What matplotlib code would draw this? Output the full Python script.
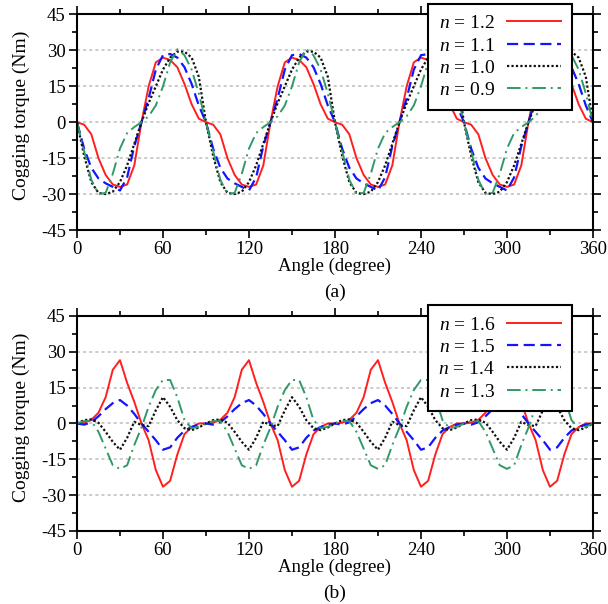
import numpy as np
import matplotlib
matplotlib.use('Agg')
import matplotlib.pyplot as plt
from matplotlib.ticker import MultipleLocator

plt.rcParams['font.family'] = ['Liberation Serif', 'DejaVu Serif']
plt.rcParams['mathtext.fontset'] = 'custom'
plt.rcParams['mathtext.it'] = 'Liberation Serif:italic'
plt.rcParams['mathtext.rm'] = 'Liberation Serif'
plt.rcParams['axes.unicode_minus'] = False

angle = list(range(0, 365, 5))

# ---- panel (a) ----
n12 = [0, -1, -5, -15, -22, -26, -27, -26, -18, 0, 15, 25, 27, 26, 23, 16, 7.5, 1.5,
       0, -1, -5, -15, -22, -26, -27, -26, -18, 0, 15, 25, 27, 26, 23, 16, 7.5, 1.5,
       0, -1, -5, -15, -22, -26, -27, -26, -18, 0, 15, 25, 27, 26, 23, 16, 7.5, 1.5,
       0, -1, -5, -15, -22, -26, -27, -26, -18, 0, 15, 25, 27, 26, 23, 16, 7.5, 1.5, 0]
n11 = [0, -11, -19, -23.5, -25.5, -27, -28.5, -23, -10, 0, 10, 22, 28, 28.5, 27, 23, 16, 7,
       0, -11, -19, -23.5, -25.5, -27, -28.5, -23, -10, 0, 10, 22, 28, 28.5, 27, 23, 16, 7,
       0, -11, -19, -23.5, -25.5, -27, -28.5, -23, -10, 0, 10, 22, 28, 28.5, 27, 23, 16, 7,
       0, -11, -19, -23.5, -25.5, -27, -28.5, -23, -10, 0, 10, 22, 28, 28.5, 27, 23, 16, 7, 0]
n10 = [0, -14, -25, -29.5, -30, -29, -25, -18, -9, 0, 8, 15, 22, 27, 29.5, 29.5, 27, 19,
       0, -14, -25, -29.5, -30, -29, -25, -18, -9, 0, 8, 15, 22, 27, 29.5, 29.5, 27, 19,
       0, -14, -25, -29.5, -30, -29, -25, -18, -9, 0, 8, 15, 22, 27, 29.5, 29.5, 27, 19,
       0, -14, -25, -29.5, -30, -29, -25, -18, -9, 0, 8, 15, 22, 27, 29.5, 29.5, 27, 19, 0]
n09 = [0, -12, -24, -30, -29.5, -21.5, -11, -4.5, -2, 0, 2.5, 7, 15, 25, 30.5, 28, 22, 12,
       0, -12, -24, -30, -29.5, -21.5, -11, -4.5, -2, 0, 2.5, 7, 15, 25, 30.5, 28, 22, 12,
       0, -12, -24, -30, -29.5, -21.5, -11, -4.5, -2, 0, 2.5, 7, 15, 25, 30.5, 28, 22, 12,
       0, -12, -24, -30, -29.5, -21.5, -11, -4.5, -2, 0, 2.5, 7, 15, 25, 30.5, 28, 22, 12, 0]

# ---- panel (b) ----
n16 = [0, 0.3, 1.5, 4.5, 11, 22.5, 26.5, 17, 9, 0, -7, -19.5, -26.5, -24, -13, -4.5, -1.5, 0,
       0, 0.3, 1.5, 4.5, 11, 22.5, 26.5, 17, 9, 0, -7, -19.5, -26.5, -24, -13, -4.5, -1.5, 0,
       0, 0.3, 1.5, 4.5, 11, 22.5, 26.5, 17, 9, 0, -7, -19.5, -26.5, -24, -13, -4.5, -1.5, 0,
       0, 0.3, 1.5, 4.5, 11, 22.5, 26.5, 17, 9, 0, -7, -19.5, -26.5, -24, -13, -4.5, -1.5, 0, 0]
n15 = [0, -0.5, 0.5, 3, 6, 8.5, 9.8, 7.5, 4, 0, -3.5, -7, -11, -10, -6, -3, -1.5, -0.5,
       0, -0.5, 0.5, 3, 6, 8.5, 9.8, 7.5, 4, 0, -3.5, -7, -11, -10, -6, -3, -1.5, -0.5,
       0, -0.5, 0.5, 3, 6, 8.5, 9.8, 7.5, 4, 0, -3.5, -7, -11, -10, -6, -3, -1.5, -0.5,
       0, -0.5, 0.5, 3, 6, 8.5, 9.8, 7.5, 4, 0, -3.5, -7, -11, -10, -6, -3, -1.5, -0.5, 0]
n14 = [0, 1.4, 1.7, 0.3, -3.5, -7.7, -11, -6, 0.7, -0.7, -1.1, 5.5, 11, 7, 1.4, -2, -2.8, -1.7,
       0, 1.4, 1.7, 0.3, -3.5, -7.7, -11, -6, 0.7, -0.7, -1.1, 5.5, 11, 7, 1.4, -2, -2.8, -1.7,
       0, 1.4, 1.7, 0.3, -3.5, -7.7, -11, -6, 0.7, -0.7, -1.1, 5.5, 11, 7, 1.4, -2, -2.8, -1.7,
       0, 1.4, 1.7, 0.3, -3.5, -7.7, -11, -6, 0.7, -0.7, -1.1, 5.5, 11, 7, 1.4, -2, -2.8, -1.7, 0]
n13 = [0, 1, 1, -3.5, -10.5, -17.5, -19, -17.5, -9, -1.7, 7, 14, 18.2, 18.2, 11, 1.4, -2, -1.4,
       0, 1, 1, -3.5, -10.5, -17.5, -19, -17.5, -9, -1.7, 7, 14, 18.2, 18.2, 11, 1.4, -2, -1.4,
       0, 1, 1, -3.5, -10.5, -17.5, -19, -17.5, -9, -1.7, 7, 14, 18.2, 18.2, 11, 1.4, -2, -1.4,
       0, 1, 1, -3.5, -10.5, -17.5, -19, -17.5, -9, -1.7, 7, 14, 18.2, 18.2, 11, 1.4, -2, -1.4, 0]

labels_a = ['$n$ = 1.2', '$n$ = 1.1', '$n$ = 1.0', '$n$ = 0.9']
labels_b = ['$n$ = 1.6', '$n$ = 1.5', '$n$ = 1.4', '$n$ = 1.3']
x_ticks = [0, 60, 120, 180, 240, 300, 360]
y_ticks = [-45, -30, -15, 0, 15, 30, 45]
grid_levels = [-30, -15, 0, 15, 30]

styles = [
    dict(color='#ff1f1f', lw=1.4, ls='-'),
    dict(color='#1414ff', lw=1.6, dashes=(5, 2.5)),
    dict(color='#111111', lw=1.6, dashes=(1, 1)),
    dict(color='#2f9a66', lw=1.4, dashes=(7, 2.5, 1, 2.5)),
]

fig = plt.figure(figsize=(6.08, 6.04), dpi=100)
ax_a = fig.add_axes([0.1266, 0.6192, 0.8487, 0.3568])
ax_b = fig.add_axes([0.1266, 0.1209, 0.8487, 0.3560])


def draw(ax, series, labels, tag):
    for lv in grid_levels:
        ax.axhline(lv, color='#bdbdbd', lw=1.1, ls=(0, (2, 2)), zorder=0)
    lines = []
    for s, lab, st in zip(series, labels, styles):
        ln, = ax.plot(angle, s, label=lab, **st)
        lines.append(ln)
    ax.set_xlim(0, 360)
    ax.set_ylim(-45, 45)
    ax.set_xticks(x_ticks)
    ax.set_yticks(y_ticks)
    ax.xaxis.set_minor_locator(MultipleLocator(30))
    ax.yaxis.set_minor_locator(MultipleLocator(7.5))
    ax.tick_params(which='both', direction='out', top=True, right=True,
                   labelsize=13.5, width=1.2, pad=2)
    ax.tick_params(which='major', length=6)
    ax.tick_params(which='minor', length=3.5)
    for sp in ax.spines.values():
        sp.set_linewidth(1.5)
    ax.set_ylabel('Cogging torque (Nm)', fontsize=14, va='center')
    ax.yaxis.set_label_coords(-0.108, 0.53)
    ax.set_xlabel('Angle (degree)', fontsize=13.5, labelpad=0)
    leg = ax.legend(handles=lines, loc='upper right', bbox_to_anchor=(0.959, 1.049),
                    borderaxespad=0, fontsize=14, markerfirst=False,
                    handlelength=2.8, handletextpad=0.6, labelspacing=0.24,
                    borderpad=0.55, fancybox=False, framealpha=1, edgecolor='black')
    leg.get_frame().set_linewidth(1.5)
    leg.set_zorder(10)
    ax.text(0.5, -0.29, tag, transform=ax.transAxes, ha='center', va='center', fontsize=14)


draw(ax_a, [n12, n11, n10, n09], labels_a, '(a)')
draw(ax_b, [n16, n15, n14, n13], labels_b, '(b)')

fig.savefig('out.png', dpi=100)
